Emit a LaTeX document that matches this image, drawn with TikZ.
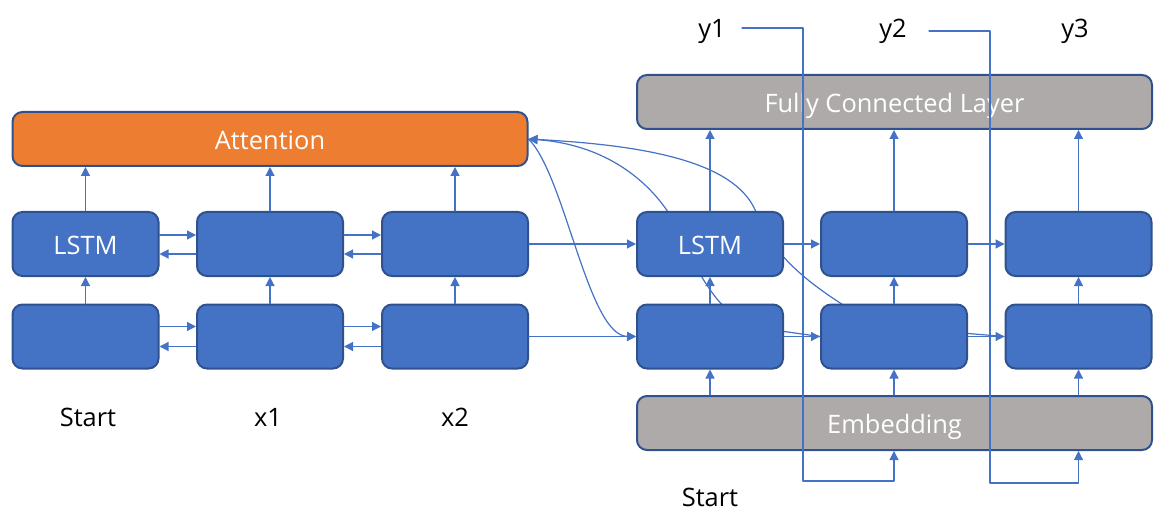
\documentclass[tikz,border=0pt]{standalone}
\usepackage{fontspec}
\setmainfont{Open Sans}
\usetikzlibrary{arrows.meta,backgrounds}
\definecolor{azul}{HTML}{4472C4}
\definecolor{borde}{HTML}{2F528F}
\definecolor{naranja}{HTML}{ED7D31}
\definecolor{gris}{HTML}{AEAAAA}

\begin{document}
\begin{tikzpicture}[x=0.5pt, y=-0.5pt, line cap=round, line join=round,
  caja/.style={draw=borde, line width=1pt, rounded corners=5pt, fill=azul, text=white,
    minimum width=73pt, minimum height=32pt, inner sep=0pt, text height=10.5pt, text depth=0pt,
    font=\fontsize{12.7}{15}\selectfont},
  barra/.style={caja, minimum width=257.5pt, minimum height=27pt},
  etiq/.style={inner sep=0pt, font=\fontsize{12.7}{15}\selectfont},
  linea/.style={azul, line width=0.6pt},
  flecha/.style={linea, -{Triangle[length=4.5pt,width=4.5pt]}}]
  \useasboundingbox (0,0) rectangle (1171,529);

  % Codificador
  \node[barra, fill=naranja] (attn) at (270,139) {Attention};
  \node[caja] (eh1) at (85.5,244) {LSTM};
  \node[caja] (eh2) at (270,244) {};
  \node[caja] (eh3) at (455,244) {};
  \node[caja] (el1) at (85.5,336.5) {};
  \node[caja] (el2) at (270,336.5) {};
  \node[caja] (el3) at (455,336.5) {};

  % Decodificador
  \node[barra, fill=gris] (fc) at (894.5,102) {Fully Connected Layer};
  \node[caja] (dh1) at (710,244) {LSTM};
  \node[caja] (dh2) at (894,244) {};
  \node[caja] (dh3) at (1078.5,244) {};
  \node[caja] (dl1) at (710,336.5) {};
  \node[caja] (dl2) at (894,336.5) {};
  \node[caja] (dl3) at (1078.5,336.5) {};
  \node[barra, fill=gris] (emb) at (894.5,423) {Embedding};

  % Etiquetas
  \node[etiq] (s1) at (88,417) {Start};
  \node[etiq] (x1) at (268,417) {x1};
  \node[etiq] (x2) at (455,417) {x2};
  \node[etiq] (s2) at (710,497) {Start};
  \node[etiq] (y1) at (712,31) {y1};
  \node[etiq] (y2) at (893,31) {y2};
  \node[etiq] (y3) at (1075,31) {y3};

  % Flechas del codificador
  \foreach \i/\j in {1/2,2/3} {
    \draw[flecha] ([yshift=4.5pt]eh\i.east) -- ([yshift=4.5pt]eh\j.west);
    \draw[flecha] ([yshift=-5pt]eh\j.west) -- ([yshift=-5pt]eh\i.east);
    \draw[flecha] ([yshift=5pt]el\i.east) -- ([yshift=5pt]el\j.west);
    \draw[flecha] ([yshift=-5pt]el\j.west) -- ([yshift=-5pt]el\i.east);
    \draw[flecha] (dh\i.east) -- (dh\j.west);
    \draw[flecha] (dl\i.east) -- (dl\j.west);
  }
  \foreach \i in {1,2,3} {
    \draw[flecha] (el\i.north) -- (eh\i.south);
    \draw[flecha] (eh\i.north) -- (eh\i.north |- attn.south);
    \draw[flecha] (dl\i.north) -- (dh\i.south);
    \draw[flecha] (dh\i.north) -- (dh\i.north |- fc.south);
    \draw[flecha] (dl\i.south |- emb.north) -- (dl\i.south);
  }
  \draw[flecha] (eh3.east) -- (dh1.west);
  \draw[flecha] (el3.east) -- (dl1.west);

  % Atencion (detras de las cajas)
  \coordinate (c1) at (730,312);
  \coordinate (c2) at (848,308);
  \begin{scope}[on background layer]
    \draw[flecha] (attn.east) .. controls (565,175) and (588,336) .. (dl1.west);
    \draw[flecha] (c1) .. controls (700,288) and (680,230) .. (668,212)
      .. controls (650,185) and (610,145) .. (attn.east);
    \draw[flecha] (c2) .. controls (800,278) and (770,250) .. (756,212)
      .. controls (735,160) and (640,145) .. (attn.east);
    \draw[linea] ([yshift=2.5pt]dl1.east) -- (dl2.west);
    \draw[linea] ([yshift=1.5pt]dl2.east) -- (dl3.west);
  \end{scope}

  % Salidas realimentadas
  \coordinate (r1) at (742,28);
  \coordinate (r2) at (929,31);
  \draw[flecha] (r1) -| (803,481) -| (emb.south -| dl2);
  \draw[flecha] (r2) -| (990,483) -| (emb.south -| dl3);
\end{tikzpicture}
\end{document}
